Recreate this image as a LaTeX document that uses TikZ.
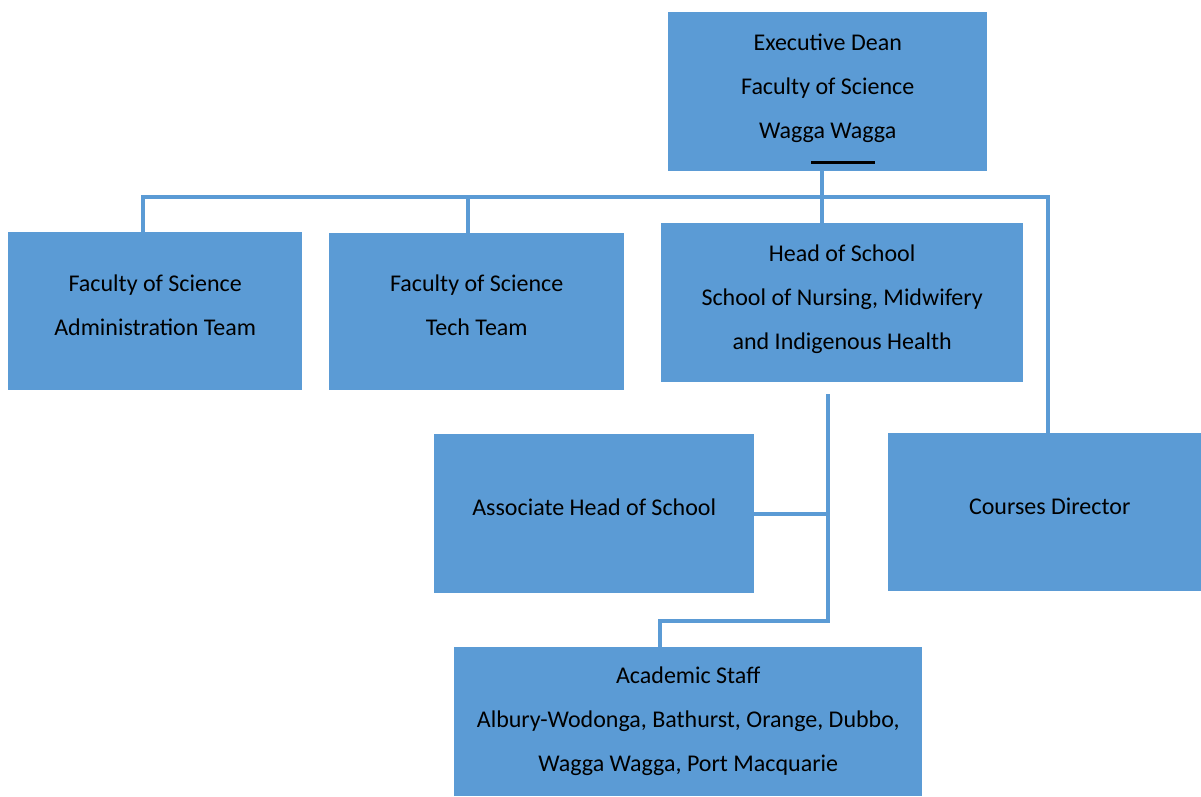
\documentclass[tikz,border=0pt]{standalone}
\usepackage{fontspec}
\setmainfont{Carlito}
\definecolor{boxblue}{HTML}{5B9BD5}
\newcommand{\lowdepth}[1]{\rule[-#1pt]{0pt}{#1pt}}
\tikzset{
  box/.style={draw=none, fill=boxblue, anchor=north west, inner sep=0pt, align=center,
    font=\fontsize{24}{44}\selectfont, text=black},
  conn/.style={draw=boxblue, line width=4pt},
}
\begin{document}
\begin{tikzpicture}[x=1pt,y=-1pt]
\useasboundingbox (0,0) rectangle (1201,796);
\node[box, minimum width=319pt, minimum height=159pt] (dean) at (668,12) {Executive Dean\\Faculty of Science\\Wagga Wagga\lowdepth{12}};
\node[box, minimum width=294pt, minimum height=158pt] (admin) at (8,232) {Faculty of Science\\Administration Team\lowdepth{13}};
\node[box, minimum width=295pt, minimum height=157pt] (tech) at (329,233) {Faculty of Science\\Tech Team\lowdepth{14}};
\node[box, minimum width=362pt, minimum height=159pt] (hos) at (661,223) {Head of School\\School of Nursing, Midwifery\\and Indigenous Health\lowdepth{12}};
\node[box, minimum width=320pt, minimum height=159pt] (assoc) at (434,434) {Associate Head of School\lowdepth{14}};
\node[box, minimum width=313pt, minimum height=158pt] (courses) at (888,433) {\hspace*{10pt}Courses Director\lowdepth{11}};
\node[box, minimum width=468pt, minimum height=149pt] (acad) at (454,647) {Academic Staff\\Albury-Wodonga, Bathurst, Orange, Dubbo,\\Wagga Wagga, Port Macquarie\lowdepth{5}};
% black mark in the dean box
\draw[black, line width=3pt] (811,162) -- (875,162);
% bus
\coordinate (busL) at (143,197);
\coordinate (busT) at (468,197);
\coordinate (busD) at (822,197);
\coordinate (busR) at (1048,197);
\draw[conn] (admin.north -| busL) -- (busL) -- (busR) -- (courses.north -| busR);
\draw[conn] (tech.north -| busT) -- (busT);
\draw[conn] (dean.south -| busD) -- (hos.north -| busD);
% school spine
\coordinate (vTop) at (828,394);
\coordinate (vMid) at (828,514);
\coordinate (vBot) at (828,621);
\coordinate (aTop) at (660,621);
\draw[conn] (vTop) -- (vBot) -- (aTop) -- (acad.north -| aTop);
\draw[conn] (assoc.east |- vMid) -- (vMid);
\end{tikzpicture}
\end{document}
